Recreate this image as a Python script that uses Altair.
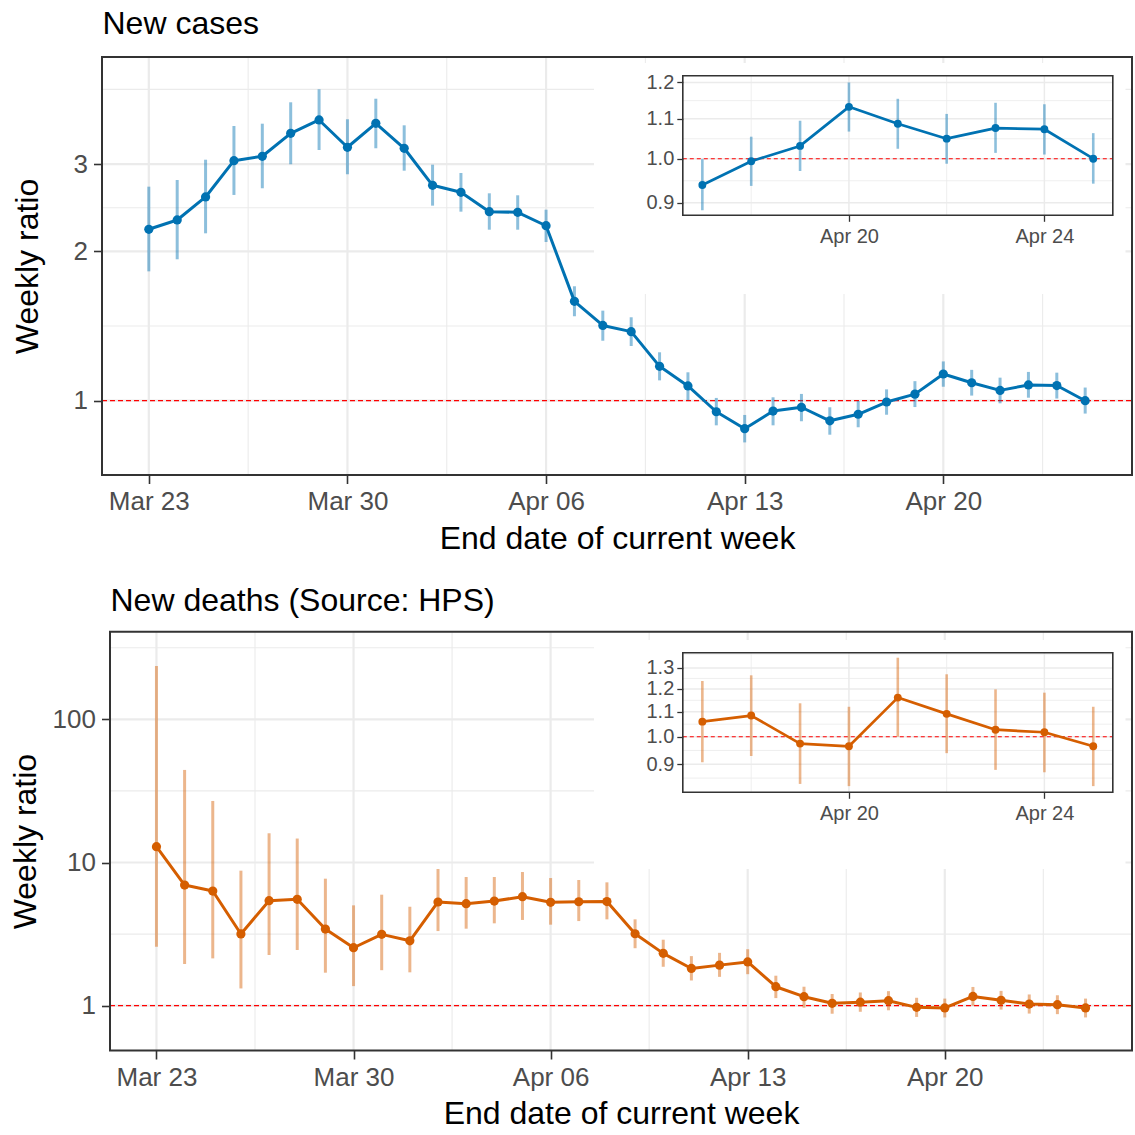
import altair as alt
import numpy as np
import pandas as pd

# Weekly ratio of new counts (current week / previous week), 23 Mar - 25 Apr 2020,
# with 95% intervals.
dates = pd.date_range("2020-03-23", "2020-04-25", freq="D").strftime("%Y-%m-%d").tolist()

cases_ratio = [2.216, 2.314, 2.575, 3.047, 3.110, 3.460, 3.681, 3.243, 3.625,
               3.228, 2.718, 2.631, 2.405, 2.398, 2.253,
               1.586, 1.418, 1.378, 1.173, 1.071, 0.950, 0.878, 0.953, 0.970, 0.911,
               0.939, 0.994, 1.031, 1.132, 1.087, 1.049, 1.076, 1.073, 1.000]
cases_lo = [1.823, 1.928, 2.175, 2.599, 2.681, 2.997, 3.202, 2.861, 3.228,
            2.909, 2.473, 2.405, 2.212, 2.212, 2.089,
            1.480, 1.321, 1.289, 1.099, 1.003, 0.892, 0.824, 0.892, 0.909, 0.854,
            0.884, 0.937, 0.971, 1.067, 1.024, 0.988, 1.014, 1.010, 0.942]
cases_hi = [2.701, 2.786, 3.061, 3.580, 3.618, 3.996, 4.245, 3.693, 4.063,
            3.591, 2.991, 2.878, 2.619, 2.595, 2.427,
            1.701, 1.519, 1.473, 1.252, 1.141, 1.013, 0.936, 1.016, 1.032, 0.970,
            0.999, 1.054, 1.095, 1.200, 1.154, 1.113, 1.143, 1.139, 1.063]

deaths_ratio = [12.9, 6.96, 6.32, 3.17, 5.41, 5.53, 3.43, 2.54, 3.15,
                2.84, 5.30, 5.16, 5.38, 5.77, 5.27,
                5.32, 5.34, 3.18, 2.32, 1.82, 1.92, 2.02, 1.357, 1.156, 1.039,
                1.059, 1.084, 0.974, 0.964, 1.161, 1.091, 1.027, 1.017, 0.964]
deaths_lo = [2.58, 1.955, 2.14, 1.32, 2.26, 2.45, 1.70, 1.37, 1.77,
             1.71, 3.32, 3.45, 3.76, 3.97, 3.68,
             3.90, 4.01, 2.52, 1.87, 1.50, 1.59, 1.66, 1.13, 0.968, 0.879,
             0.907, 0.929, 0.835, 0.828, 1.000, 0.939, 0.881, 0.873, 0.828]
deaths_hi = [235.6, 44.3, 26.9, 8.77, 16.0, 14.7, 7.71, 5.02, 5.96,
             4.91, 9.01, 7.92, 7.92, 8.58, 7.79,
             7.55, 7.27, 4.01, 2.89, 2.22, 2.34, 2.48, 1.62, 1.357, 1.207,
             1.237, 1.264, 1.136, 1.121, 1.352, 1.269, 1.198, 1.183, 1.121]

inset_from = "2020-04-17"

main_x_ticks = ["2020-03-23", "2020-03-30", "2020-04-06", "2020-04-13", "2020-04-20"]
inset_x_ticks = ["2020-04-20", "2020-04-24"]
cases_y_ticks = [1, 2, 3]
deaths_y_ticks = [1, 10, 100]
cases_inset_y_ticks = [0.9, 1.0, 1.1, 1.2]
deaths_inset_y_ticks = [0.9, 1.0, 1.1, 1.2, 1.3]

# ---------------------------------------------------------------- layout
CANVAS = 1135
FONT = "Liberation Sans"
GRID = "#EBEBEB"
INK = "#333333"
LABEL = "#4D4D4D"
BLUE = "#0072B2"
VERMILION = "#D55E00"

MAIN = dict(label=26, tick=8.5, tick_w=1.6, pad_x=5, pad_y=6, g_major=2.2, g_minor=1.1,
            border=2.0, line=3.0, bar=3.0, point=85, dash=[5, 3], ref=1.3)
INSET = dict(label=20, tick=6, tick_w=1.3, pad_x=5, pad_y=3, g_major=1.5, g_minor=0.8,
             border=1.6, line=2.7, bar=2.6, point=62, dash=[4, 3], ref=1.1)


def dt(t):
    t = pd.Timestamp(t)
    return alt.DateTime(year=t.year, month=t.month, date=t.day,
                        hours=t.hour, minutes=t.minute, utc=True)


def iso(t):
    return pd.Timestamp(t).strftime("%Y-%m-%dT%H:%M:%SZ")


def expand(first, last, frac=0.05):
    a, b = pd.Timestamp(first), pd.Timestamp(last)
    pad = (b - a) * frac
    return a - pad, b + pad


def minor_dates(majors, lo, hi):
    m = [pd.Timestamp(v) for v in majors]
    step = m[1] - m[0]
    ext = [m[0] - step] + m + [m[-1] + step]
    mids = [a + (b - a) / 2 for a, b in zip(ext[:-1], ext[1:])]
    return [v for v in mids if lo <= v <= hi]


def minor_logs(majors, lo, hi):
    lm = np.log(np.asarray(majors, dtype=float))
    step = lm[1] - lm[0]
    ext = np.concatenate([[lm[0] - step], lm, [lm[-1] + step]])
    mids = np.exp((ext[:-1] + ext[1:]) / 2)
    return [float(v) for v in mids if lo <= v <= hi]


def series(ratio, lo, hi, start=None):
    df = pd.DataFrame({"date": dates, "ratio": ratio, "lo": lo, "hi": hi})
    if start:
        df = df[df["date"] >= start].reset_index(drop=True)
    return df


def panel(df, color, xpx, ypx, ylim, yticks, xticks, yfmt, st,
          x_title=None, y_title=None, y_title_x=None, backdrop=None):
    """All layers of one panel; every layer carries the same explicit scales."""
    d0, d1 = expand(df["date"].iloc[0], df["date"].iloc[-1])
    xs = alt.Scale(type="utc", domain=[dt(d0), dt(d1)], range=list(xpx), nice=False)
    ys = alt.Scale(type="log", domain=list(ylim), range=[ypx[1], ypx[0]], nice=False)
    a, b = iso(d0), iso(d1)

    def X(field, **kw):
        return alt.X(field, type="temporal", scale=xs, **kw)

    def Y(field, **kw):
        return alt.Y(field, type="quantitative", scale=ys, **kw)

    hmaj = pd.DataFrame({"v": yticks, "a": a, "b": b})
    hmin = pd.DataFrame({"v": minor_logs(yticks, *ylim), "a": a, "b": b})
    vmaj = pd.DataFrame({"d": [iso(t) for t in xticks], "lo": ylim[0], "hi": ylim[1]})
    vmin = pd.DataFrame({"d": [iso(t) for t in minor_dates(xticks, d0, d1)],
                         "lo": ylim[0], "hi": ylim[1]})
    ref = pd.DataFrame({"v": [1.0], "a": [a], "b": [b]})
    frame = pd.DataFrame({"a": [a], "b": [b], "lo": [ylim[0]], "hi": [ylim[1]]})

    def hgrid(data, w):
        return alt.Chart(data).mark_rule(color=GRID, strokeWidth=w).encode(
            x=X("a:T", axis=None), x2="b:T", y=Y("v:Q", axis=None))

    def vgrid(data, w):
        return alt.Chart(data).mark_rule(color=GRID, strokeWidth=w).encode(
            x=X("d:T", axis=None), y=Y("lo:Q", axis=None), y2="hi:Q")

    x_axis = alt.Axis(
        orient="bottom", offset=ypx[1] - CANVAS, values=[dt(t) for t in xticks],
        format="%b %d", domain=False, grid=False, labelFont=FONT,
        labelFontSize=st["label"], labelColor=LABEL, labelPadding=st["pad_x"],
        labelFlush=False, labelOverlap=False, tickColor=INK, tickSize=st["tick"],
        tickWidth=st["tick_w"], zindex=1,
        titleFont=FONT, titleFontSize=32, titleFontWeight="normal", titleColor="black",
        titleX=(xpx[0] + xpx[1]) / 2, titleY=73, titleAlign="center",
        titleBaseline="alphabetic")
    y_axis = alt.Axis(
        orient="left", offset=-xpx[0], values=yticks, format=yfmt, domain=False,
        grid=False, labelFont=FONT, labelFontSize=st["label"], labelColor=LABEL,
        labelPadding=st["pad_y"], labelFlush=False, labelOverlap=False,
        tickColor=INK, tickSize=st["tick"], tickWidth=st["tick_w"], zindex=1,
        titleFont=FONT, titleFontSize=32, titleFontWeight="normal", titleColor="black",
        titleAngle=270, titleAlign="center", titleBaseline="middle",
        titleX=(y_title_x - xpx[0]) if y_title_x is not None else -60,
        titleY=(ypx[0] + ypx[1]) / 2)

    layers = []
    if backdrop is not None:
        bx0, bx1, by0, by1 = backdrop
        layers.append(alt.Chart(frame).mark_rect(color="white").encode(
            x=alt.value(bx0), x2=alt.value(bx1), y=alt.value(by0), y2=alt.value(by1)))
    layers += [
        hgrid(hmin, st["g_minor"]),
        vgrid(vmin, st["g_minor"]),
        hgrid(hmaj, st["g_major"]),
        vgrid(vmaj, st["g_major"]),
        alt.Chart(ref).mark_rule(color="#FF0000", strokeWidth=st["ref"],
                                 strokeDash=st["dash"]).encode(
            x=X("a:T", axis=None), x2="b:T", y=Y("v:Q", axis=None)),
        alt.Chart(df).mark_rule(color=color, opacity=0.45, strokeWidth=st["bar"]).encode(
            x=X("date:T", axis=None), y=Y("lo:Q", axis=None), y2="hi:Q"),
        alt.Chart(df).mark_line(color=color, strokeWidth=st["line"],
                                strokeJoin="round").encode(
            x=X("date:T", axis=x_axis, title=x_title),
            y=Y("ratio:Q", axis=y_axis, title=y_title)),
        alt.Chart(df).mark_circle(color=color, size=st["point"], opacity=1).encode(
            x=X("date:T", axis=None), y=Y("ratio:Q", axis=None)),
        alt.Chart(frame).mark_rect(fillOpacity=0, stroke=INK,
                                   strokeWidth=st["border"]).encode(
            x=X("a:T", axis=None), x2="b:T", y=Y("lo:Q", axis=None), y2="hi:Q"),
    ]
    return layers


def heading(df, xpx, ypx, text, baseline):
    d0, d1 = expand(df["date"].iloc[0], df["date"].iloc[-1])
    xs = alt.Scale(type="utc", domain=[dt(d0), dt(d1)], range=list(xpx), nice=False)
    axis = alt.Axis(orient="top", offset=-ypx[0], labels=False, ticks=False,
                    domain=False, grid=False, zindex=1,
                    titleFont=FONT, titleFontSize=32, titleFontWeight="normal",
                    titleColor="black", titleX=xpx[0], titleY=baseline - ypx[0],
                    titleAlign="left", titleBaseline="alphabetic")
    return [alt.Chart(df).mark_point(opacity=0).encode(
        x=alt.X("date:T", scale=xs, axis=axis, title=text))]


cases = series(cases_ratio, cases_lo, cases_hi)
deaths = series(deaths_ratio, deaths_lo, deaths_hi)
cases_recent = series(cases_ratio, cases_lo, cases_hi, inset_from)
deaths_recent = series(deaths_ratio, deaths_lo, deaths_hi, inset_from)

layers = []
# New cases: main panel, then the recent-week zoom drawn over its upper right
layers += panel(cases, BLUE, (102, 1132), (57, 475), (0.7083, 4.931),
                cases_y_ticks, main_x_ticks, ".0f", MAIN,
                x_title="End date of current week", y_title="Weekly ratio",
                y_title_x=27)
layers += panel(cases_recent, BLUE, (682.8, 1112.8), (75.7, 215.3), (0.8734, 1.2195),
                cases_inset_y_ticks, inset_x_ticks, ".1f", INSET,
                backdrop=(594, 1125.5, 63, 294))
layers += heading(cases, (102, 1132), (57, 475), "New cases", 33)

# New deaths: main panel, then the recent-week zoom
layers += panel(deaths, VERMILION, (110, 1132), (631.7, 1050.5), (0.4866, 409),
                deaths_y_ticks, main_x_ticks, ".0f", MAIN,
                x_title="End date of current week", y_title="Weekly ratio",
                y_title_x=25)
layers += panel(deaths_recent, VERMILION, (682.8, 1112.8), (652.7, 792.3),
                (0.8087, 1.378), deaths_inset_y_ticks, inset_x_ticks, ".1f", INSET,
                backdrop=(594, 1125.5, 640, 869))
layers += heading(deaths, (110, 1132), (631.7, 1050.5), "New deaths (Source: HPS)", 610)

chart = (
    alt.layer(*layers)
    .resolve_scale(x="independent", y="independent")
    .properties(width=CANVAS, height=CANVAS, padding=0,
                autosize=alt.AutoSizeParams(type="none"))
    .configure(background="white")
    .configure_view(stroke=None)
)

chart.save("out.html", embed_options={"renderer": "svg", "actions": False})
